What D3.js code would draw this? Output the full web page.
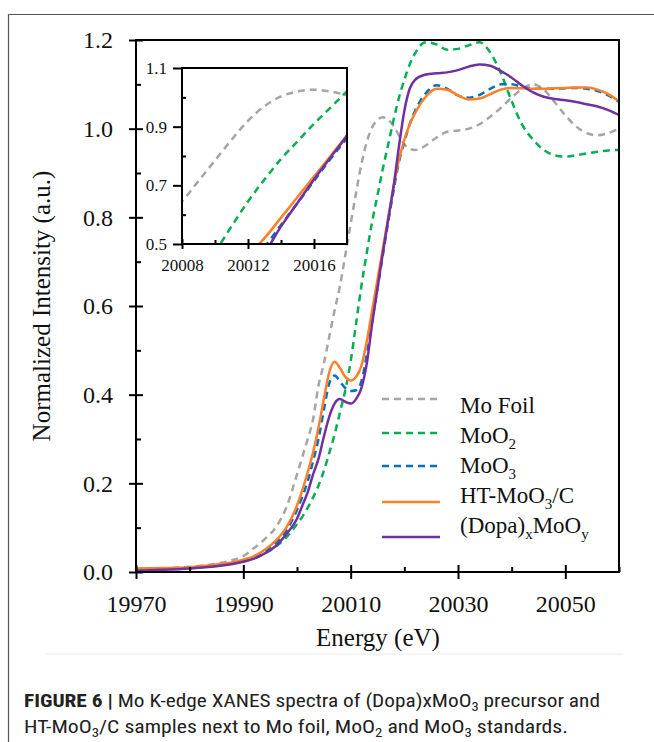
<!DOCTYPE html>
<html>
<head>
<meta charset="utf-8">
<script src="https://cdn.jsdelivr.net/npm/d3@7"></script>
<style>
  body { margin: 0; background: #fff; }
  svg { display: block; }
</style>
</head>
<body>
<div id="chart"></div>
<script>
// energy grid (eV) shared by all spectra
var energy = [19970, 19975, 19980, 19985, 19988, 19990, 19992, 19994, 19996, 19998,
  20000, 20001, 20002, 20003, 20004, 20005, 20006, 20007, 20008, 20009,
  20010, 20011, 20012, 20013, 20014, 20015, 20016, 20017, 20018, 20019,
  20020, 20021, 20022, 20024, 20026, 20028, 20030, 20032, 20034, 20036,
  20038, 20040, 20042, 20044, 20046, 20048, 20050, 20052, 20054, 20056,
  20058, 20060];

var moFoil = [0.005, 0.008, 0.012, 0.019, 0.027, 0.036, 0.054, 0.074, 0.10, 0.145,
  0.22, 0.26, 0.30, 0.345, 0.42, 0.47, 0.53, 0.59, 0.645, 0.715,
  0.785, 0.855, 0.92, 0.97, 1.003, 1.02, 1.026, 1.02, 1.006, 0.985,
  0.965, 0.955, 0.952, 0.962, 0.98, 0.993, 0.996, 1.0, 1.01, 1.027,
  1.047, 1.07, 1.09, 1.1, 1.088, 1.06, 1.03, 1.005, 0.99, 0.985,
  0.99, 1.0];

var moO2 = [0.004, 0.006, 0.009, 0.014, 0.019, 0.024, 0.031, 0.042, 0.057, 0.078,
  0.108, 0.125, 0.145, 0.168, 0.195, 0.228, 0.268, 0.31, 0.36, 0.41,
  0.475, 0.56, 0.645, 0.72, 0.79, 0.85, 0.91, 0.965, 1.02, 1.07,
  1.11, 1.145, 1.17, 1.195, 1.19, 1.178, 1.18, 1.188, 1.195, 1.172,
  1.125, 1.062, 1.008, 0.975, 0.952, 0.94, 0.937, 0.94, 0.944, 0.948,
  0.951, 0.952];

var moO3 = [0.006, 0.008, 0.010, 0.015, 0.020, 0.025, 0.033, 0.046, 0.065, 0.093,
  0.14, 0.17, 0.205, 0.25, 0.30, 0.365, 0.425, 0.443, 0.43, 0.415,
  0.408, 0.41, 0.43, 0.49, 0.565, 0.64, 0.715, 0.79, 0.86, 0.925,
  0.97, 1.01, 1.04, 1.08, 1.098, 1.09, 1.075, 1.07, 1.076, 1.09,
  1.10, 1.10, 1.094, 1.09, 1.09, 1.09, 1.091, 1.092, 1.09, 1.085,
  1.075, 1.06];

var htMoO3C = [0.008, 0.009, 0.011, 0.017, 0.022, 0.028, 0.036, 0.05, 0.07, 0.10,
  0.15, 0.185, 0.225, 0.27, 0.325, 0.39, 0.45, 0.474, 0.46, 0.44,
  0.432, 0.44, 0.465, 0.52, 0.59, 0.66, 0.73, 0.80, 0.87, 0.93,
  0.975, 1.01, 1.035, 1.072, 1.09, 1.088, 1.075, 1.066, 1.068, 1.078,
  1.088, 1.092, 1.091, 1.09, 1.09, 1.091, 1.092, 1.093, 1.093, 1.088,
  1.078, 1.062];

var dopaMoOy = [0.003, 0.005, 0.008, 0.013, 0.018, 0.023, 0.03, 0.042, 0.058, 0.085,
  0.12, 0.15, 0.18, 0.22, 0.255, 0.305, 0.35, 0.38, 0.39, 0.384,
  0.38, 0.39, 0.415, 0.47, 0.56, 0.64, 0.72, 0.795, 0.87, 0.96,
  1.04, 1.09, 1.11, 1.122, 1.125, 1.127, 1.132, 1.14, 1.145, 1.142,
  1.13, 1.115, 1.097, 1.082, 1.072, 1.067, 1.064, 1.06, 1.055, 1.05,
  1.042, 1.031];

var xMajorTicks = [19970, 19990, 20010, 20030, 20050];
var xMinorTicks = [19980, 20000, 20020, 20040, 20060];
var yMajorTicks = [0, 0.2, 0.4, 0.6, 0.8, 1.0, 1.2];
var yMinorTicks = [0.1, 0.3, 0.5, 0.7, 0.9, 1.1];

var insetXMajor = [20008, 20012, 20016];
var insetXMinor = [20010, 20014];
var insetYMajor = [0.5, 0.7, 0.9, 1.1];
var insetYMinor = [0.6, 0.8, 1.0];

// legend labels, [text, isSubscript]
var legendLabels = [
  [["Mo Foil", false]],
  [["MoO", false], ["2", true]],
  [["MoO", false], ["3", true]],
  [["HT-MoO", false], ["3", true], ["/C", false]],
  [["(Dopa)", false], ["x", true], ["MoO", false], ["y", true]]
];

var series = [
  {values: moFoil, color: "#a5a5a5", dash: "7,5"},
  {values: moO2, color: "#00b050", dash: "7,5"},
  {values: moO3, color: "#0070c0", dash: "7,5"},
  {values: htMoO3C, color: "#ff7f27", dash: null},
  {values: dopaMoOy, color: "#7030a0", dash: null}
];

var serif = "'Liberation Serif', 'Times New Roman', serif";

var svg = d3.select("#chart").append("svg")
  .attr("width", 654)
  .attr("height", 742);

// outer panel border
svg.append("path")
  .attr("d", "M8.5,742 L8.5,14.5 L654,14.5")
  .attr("fill", "none")
  .attr("stroke", "#555")
  .attr("stroke-width", 1.2);

// main plot area
var margin = {top: 40, left: 136},
    width = 619 - 136,
    height = 572 - 40;

var g = svg.append("g")
  .attr("transform", "translate(" + margin.left + "," + margin.top + ")");

var x = d3.scaleLinear().domain([19970, 20060]).range([0, width]);
var y = d3.scaleLinear().domain([0, 1.2]).range([height, 0]);

g.append("clipPath").attr("id", "mainClip")
  .append("rect").attr("width", width).attr("height", height);

var line = d3.line()
  .x(function (d) { return x(d[0]); })
  .y(function (d) { return y(d[1]); })
  .curve(d3.curveMonotoneX);

g.append("g").attr("clip-path", "url(#mainClip)")
  .selectAll("path")
  .data(series)
  .enter().append("path")
    .attr("d", function (s) { return line(d3.zip(energy, s.values)); })
    .attr("fill", "none")
    .attr("stroke", function (s) { return s.color; })
    .attr("stroke-width", 2.5)
    .attr("stroke-dasharray", function (s) { return s.dash; });

// frame
g.append("rect")
  .attr("width", width).attr("height", height)
  .attr("fill", "none").attr("stroke", "#000").attr("stroke-width", 2);

// x axis
var xAxis = g.append("g")
  .attr("transform", "translate(0," + height + ")")
  .call(d3.axisBottom(x).tickValues(xMajorTicks).tickFormat(d3.format("d")).tickSize(7).tickPadding(16));
xAxis.selectAll(".tick line").attr("y1", -7).attr("stroke-width", 2);
g.append("g")
  .attr("transform", "translate(0," + height + ")")
  .call(d3.axisBottom(x).tickValues(xMinorTicks).tickFormat("").tickSize(-5))
  .selectAll(".tick line").attr("stroke-width", 2);

// y axis
var yAxis = g.append("g")
  .call(d3.axisLeft(y).tickValues(yMajorTicks).tickFormat(d3.format(".1f")).tickSize(7).tickPadding(16));
yAxis.selectAll(".tick line").attr("x1", 7).attr("stroke-width", 2);
g.append("g")
  .call(d3.axisLeft(y).tickValues(yMinorTicks).tickFormat("").tickSize(-5))
  .selectAll(".tick line").attr("stroke-width", 2);

g.selectAll(".domain").remove();
g.selectAll(".tick text")
  .attr("font-family", serif)
  .attr("font-size", 24)
  .attr("fill", "#111");

// axis titles
svg.append("text")
  .attr("x", 378).attr("y", 646)
  .attr("text-anchor", "middle")
  .attr("font-family", serif).attr("font-size", 25).attr("fill", "#111")
  .text("Energy (eV)");

svg.append("text")
  .attr("transform", "translate(50,306) rotate(-90)")
  .attr("text-anchor", "middle")
  .attr("font-family", serif).attr("font-size", 25).attr("fill", "#111")
  .text("Normalized Intensity (a.u.)");

// legend
var legendLineY = [399, 433, 466, 502, 537];
var legendTextY = [413, 443, 473, 503, 533];
var legend = svg.append("g");
series.forEach(function (s, i) {
  legend.append("line")
    .attr("x1", 382).attr("x2", 440)
    .attr("y1", legendLineY[i]).attr("y2", legendLineY[i])
    .attr("stroke", s.color).attr("stroke-width", 2.5)
    .attr("stroke-dasharray", s.dash);
});
legendLabels.forEach(function (parts, i) {
  var t = legend.append("text")
    .attr("x", 460).attr("y", legendTextY[i])
    .attr("font-family", serif).attr("font-size", 23).attr("fill", "#111");
  var shift = 0;
  parts.forEach(function (p) {
    var ts = t.append("tspan").text(p[0]);
    if (p[1]) {
      ts.attr("font-size", 15).attr("dy", 6 - shift);
      shift = 6;
    } else {
      ts.attr("dy", -shift);
      shift = 0;
    }
  });
});

// inset
var inset = {left: 182, top: 68, width: 347 - 182, height: 244 - 68};
var ig = svg.append("g")
  .attr("transform", "translate(" + inset.left + "," + inset.top + ")");

var xi = d3.scaleLinear().domain([20008, 20018]).range([0, inset.width]);
var yi = d3.scaleLinear().domain([0.5, 1.1]).range([inset.height, 0]);

ig.append("rect")
  .attr("width", inset.width).attr("height", inset.height)
  .attr("fill", "#fff");

ig.append("clipPath").attr("id", "insetClip")
  .append("rect").attr("width", inset.width).attr("height", inset.height);

var insetLine = d3.line()
  .x(function (d) { return xi(d[0]); })
  .y(function (d) { return yi(d[1]); })
  .curve(d3.curveMonotoneX);

ig.append("g").attr("clip-path", "url(#insetClip)")
  .selectAll("path")
  .data(series)
  .enter().append("path")
    .attr("d", function (s) { return insetLine(d3.zip(energy, s.values)); })
    .attr("fill", "none")
    .attr("stroke", function (s) { return s.color; })
    .attr("stroke-width", 2.5)
    .attr("stroke-dasharray", function (s) { return s.dash; });

ig.append("rect")
  .attr("width", inset.width).attr("height", inset.height)
  .attr("fill", "none").attr("stroke", "#000").attr("stroke-width", 2);

var ixAxis = ig.append("g")
  .attr("transform", "translate(0," + inset.height + ")")
  .call(d3.axisBottom(xi).tickValues(insetXMajor).tickFormat(d3.format("d")).tickSize(5).tickPadding(10));
ixAxis.selectAll(".tick line").attr("y1", -5).attr("stroke-width", 2);
ig.append("g")
  .attr("transform", "translate(0," + inset.height + ")")
  .call(d3.axisBottom(xi).tickValues(insetXMinor).tickFormat("").tickSize(-4))
  .selectAll(".tick line").attr("stroke-width", 2);

var iyAxis = ig.append("g")
  .call(d3.axisLeft(yi).tickValues(insetYMajor).tickFormat(d3.format(".1f")).tickSize(9).tickPadding(6));
iyAxis.selectAll(".tick line").attr("stroke-width", 2);
ig.append("g")
  .call(d3.axisLeft(yi).tickValues(insetYMinor).tickFormat("").tickSize(-4))
  .selectAll(".tick line").attr("stroke-width", 2);

ig.selectAll(".domain").remove();
ig.selectAll(".tick text")
  .attr("font-family", serif)
  .attr("font-size", 17)
  .attr("fill", "#111");

// separator under the chart
svg.append("line")
  .attr("x1", 46).attr("x2", 623)
  .attr("y1", 654).attr("y2", 654)
  .attr("stroke", "#f0f0f0").attr("stroke-width", 1.5);

// caption
var capFont = "'Liberation Sans Narrow', 'Roboto Condensed', 'Liberation Sans', Arial, sans-serif";
var cap1 = svg.append("text")
  .attr("x", 24).attr("y", 707)
  .attr("textLength", 576).attr("lengthAdjust", "spacingAndGlyphs")
  .attr("font-family", capFont).attr("font-size", 19).attr("fill", "#222");
cap1.append("tspan").attr("font-weight", "bold").text("FIGURE 6 | ");
cap1.append("tspan").text("Mo K-edge XANES spectra of (Dopa)xMoO");
cap1.append("tspan").attr("font-size", 13).attr("dy", 4).text("3");
cap1.append("tspan").attr("dy", -4).text(" precursor and");

var cap2 = svg.append("text")
  .attr("x", 24).attr("y", 733)
  .attr("textLength", 544).attr("lengthAdjust", "spacingAndGlyphs")
  .attr("font-family", capFont).attr("font-size", 19).attr("fill", "#222");
cap2.append("tspan").text("HT-MoO");
cap2.append("tspan").attr("font-size", 13).attr("dy", 4).text("3");
cap2.append("tspan").attr("dy", -4).text("/C samples next to Mo foil, MoO");
cap2.append("tspan").attr("font-size", 13).attr("dy", 4).text("2");
cap2.append("tspan").attr("dy", -4).text(" and MoO");
cap2.append("tspan").attr("font-size", 13).attr("dy", 4).text("3");
cap2.append("tspan").attr("dy", -4).text(" standards.");
</script>
</body>
</html>
